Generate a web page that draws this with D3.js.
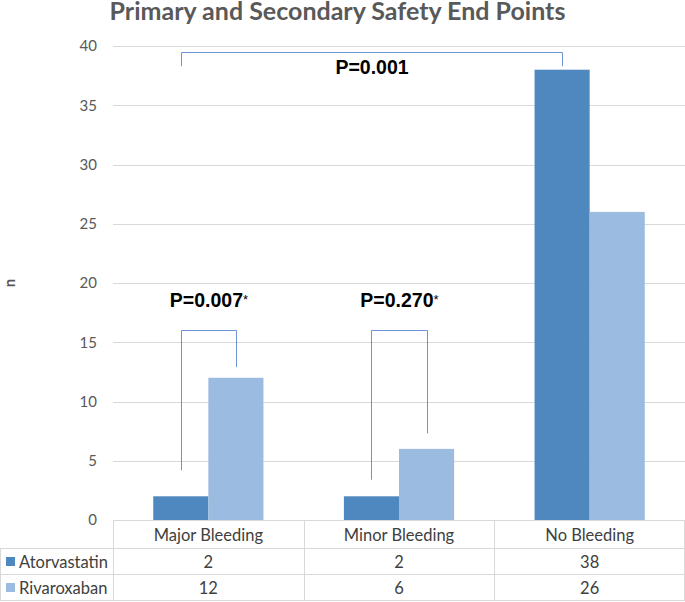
<!DOCTYPE html>
<html><head><meta charset="utf-8">
<script src="https://cdn.jsdelivr.net/npm/d3@7/dist/d3.min.js"></script>
<style>body{margin:0;background:#fff}svg{display:block}</style>
</head><body>
<script>
const categories = ["Major Bleeding", "Minor Bleeding", "No Bleeding"];
const series = ["Atorvastatin", "Rivaroxaban"];
const atorvastatin = [2, 2, 38];
const rivaroxaban = [12, 6, 26];
const yTicks = [0, 5, 10, 15, 20, 25, 30, 35, 40];
const colors = ["#4f88bf", "#9bbbe0"];
// significance brackets: from category/series to category/series, with values
const brackets = [
  {label: "P=0.001", star: false, from: [0, 0], to: [2, 0], top: 39.5, leftEnd: 38.3, rightEnd: 38.3, textY: 37.65},
  {label: "P=0.007", star: true, from: [0, 0], to: [0, 1], top: 16, leftEnd: 4.2, rightEnd: 12.9, textY: 18},
  {label: "P=0.270", star: true, from: [1, 0], to: [1, 1], top: 16, leftEnd: 3.4, rightEnd: 7.3, textY: 18}
];
const values = [atorvastatin, rivaroxaban];

const W = 685, H = 602;
const svg = d3.select("body").append("svg").attr("width", W).attr("height", H);
const mLeft = 113, mRight = 685, mTop = 46, mBottom = 520;

const x0 = d3.scaleBand().domain(categories).range([mLeft, mRight]).padding(0);
const gap = 0.73;
const groupW = x0.bandwidth() / (1 + gap);
const x1 = d3.scaleBand().domain(series)
  .range([(x0.bandwidth() - groupW) / 2, (x0.bandwidth() + groupW) / 2]).padding(0);
const y = d3.scaleLinear().domain([0, 40]).range([mBottom, mTop]);

const font = "Lato, 'Open Sans', sans-serif";

// title
svg.append("text").attr("x", 337.5).attr("y", 20).attr("text-anchor", "middle")
  .attr("font-family", font).attr("font-weight", "bold").attr("font-size", 25)
  .attr("fill", "#595959").text("Primary and Secondary Safety End Points");

// gridlines
svg.append("g").selectAll("line").data(yTicks.filter(d => d > 0)).join("line")
  .attr("x1", mLeft).attr("x2", mRight).attr("y1", d => Math.round(y(d)) + 0.5).attr("y2", d => Math.round(y(d)) + 0.5)
  .attr("stroke", "#d9d9d9").attr("stroke-width", 1);

// y axis labels
const yAxis = d3.axisLeft(y).tickValues(yTicks).tickSize(0).tickPadding(16);
const ga = svg.append("g").attr("transform", `translate(${mLeft},0)`).call(yAxis);
ga.select(".domain").remove();
ga.selectAll("text").attr("font-family", font).attr("font-size", 15).attr("fill", "#595959");

// axis title
svg.append("text").attr("transform", "translate(15,283) rotate(-90)").attr("text-anchor", "middle")
  .attr("font-family", font).attr("font-weight", "bold").attr("font-size", 15).attr("fill", "#595959").text("n");

// bars
const g = svg.append("g");
categories.forEach((c, i) => {
  series.forEach((s, j) => {
    g.append("rect").attr("x", x0(c) + x1(s)).attr("width", x1.bandwidth())
      .attr("y", y(values[j][i])).attr("height", y(0) - y(values[j][i])).attr("fill", colors[j]);
  });
});

// brackets
const bx = (p) => x0(categories[p[0]]) + x1(series[p[1]]) + x1.bandwidth() / 2;
brackets.forEach(b => {
  const xa = Math.round(bx(b.from)) + 0.5, xb = Math.round(bx(b.to)) + 0.5;
  const path = d3.path();
  path.moveTo(xa, y(b.leftEnd)); path.lineTo(xa, Math.round(y(b.top)) + 0.5);
  path.lineTo(xb, Math.round(y(b.top)) + 0.5); path.lineTo(xb, y(b.rightEnd));
  svg.append("path").attr("d", path.toString()).attr("fill", "none").attr("stroke", "#6b93d6").attr("stroke-width", 1);
  const t = svg.append("text").attr("x", (xa + xb) / 2).attr("y", y(b.textY)).attr("text-anchor", "middle")
    .attr("font-family", "'Liberation Sans', Arial, sans-serif").attr("font-weight", "bold").attr("font-size", 19.5).attr("fill", "#000");
  t.append("tspan").text(b.label);
  if (b.star) t.append("tspan").attr("font-size", 13).attr("font-weight", "normal").attr("dy", -3).text("*");
});

// data table
const tcol = "#d9d9d9";
const tfs = 16.5;
const rows = [520, 548.5, 574.5, 600.5];
const tg = svg.append("g");
tg.append("line").attr("x1", 0).attr("x2", mRight).attr("y1", rows[1]).attr("y2", rows[1]).attr("stroke", tcol);
tg.append("line").attr("x1", 0).attr("x2", mRight).attr("y1", rows[2]).attr("y2", rows[2]).attr("stroke", tcol);
tg.append("line").attr("x1", 0).attr("x2", mRight).attr("y1", rows[3]).attr("y2", rows[3]).attr("stroke", tcol);
tg.append("line").attr("x1", mLeft).attr("x2", mRight).attr("y1", mBottom + 0.5).attr("y2", mBottom + 0.5).attr("stroke", tcol);
const vx = [mLeft, x0(categories[1]), x0(categories[2]), mRight - 1];
vx.forEach(v => tg.append("line").attr("x1", Math.round(v) + 0.5).attr("x2", Math.round(v) + 0.5)
  .attr("y1", mBottom).attr("y2", rows[3]).attr("stroke", tcol));
tg.append("line").attr("x1", 0.5).attr("x2", 0.5).attr("y1", rows[1]).attr("y2", rows[3]).attr("stroke", tcol);

categories.forEach((c, i) => {
  tg.append("text").attr("x", x0(c) + x0.bandwidth() / 2).attr("y", 540.5).attr("text-anchor", "middle")
    .attr("font-family", font).attr("font-size", tfs).attr("fill", "#404040").text(c);
  series.forEach((s, j) => {
    tg.append("text").attr("x", x0(c) + x0.bandwidth() / 2).attr("y", (rows[j + 1] + rows[j + 2]) / 2 + 6)
      .attr("text-anchor", "middle").attr("font-family", font).attr("font-size", tfs).attr("fill", "#404040")
      .text(values[j][i]);
  });
});
series.forEach((s, j) => {
  const cy = (rows[j + 1] + rows[j + 2]) / 2;
  tg.append("rect").attr("x", 6).attr("y", cy - 4.5).attr("width", 9).attr("height", 9).attr("fill", colors[j]);
  tg.append("text").attr("x", 19).attr("y", cy + 6).attr("font-family", font).attr("font-size", tfs)
    .attr("fill", "#404040").text(s);
});
</script>
</body></html>
